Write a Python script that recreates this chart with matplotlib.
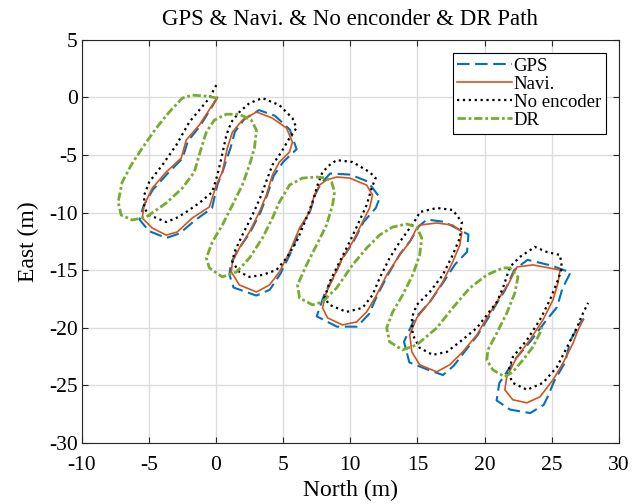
import matplotlib
matplotlib.use("Agg")
import matplotlib.pyplot as plt

plt.rcParams["font.family"] = ["Liberation Serif", "DejaVu Serif"]
plt.rcParams["axes.unicode_minus"] = False

# -------------------------
# Path data (North, East) in metres
# -------------------------
gps_x = [0.1, -0.3, -1.2, -2.1, -2.5, -3.6, -4.7, -5.4, -5.7, -5.0, -3.7, -2.7, -1.6, -0.3,
         0.1, 0.5, 1.1, 1.4, 2.1, 3.2, 4.4, 5.5, 6.0, 5.0, 4.3, 3.8, 3.3, 2.5, 1.6, 1.1,
         1.0, 1.3, 3.0, 4.0, 4.8, 5.6, 6.3, 7.0, 7.4, 7.8, 8.5, 10.0, 11.3, 12.2, 11.9, 11.0,
         10.2, 9.4, 8.8, 8.1, 7.5, 9.0, 10.5, 11.4, 12.0, 12.8, 13.7, 14.5, 15.1, 15.7, 17.0,
         18.8, 18.7, 17.8, 16.9, 15.9, 14.8, 14.0, 14.4, 15.7, 16.9, 17.7, 18.5, 19.5, 20.3,
         21.0, 21.5, 22.2, 23.2, 25.0, 26.4, 25.8, 25.4, 24.5, 23.4, 22.3, 21.1, 20.9, 21.9,
         23.4, 24.4, 24.7, 25.2, 26.0, 26.4, 27.1, 27.4]
gps_y = [0.0, -0.8, -2.5, -3.8, -5.3, -6.6, -8.0, -9.4, -10.6, -11.6, -12.2, -11.8, -10.7, -9.6,
         -7.6, -6.4, -4.3, -3.0, -1.9, -1.1, -1.6, -2.8, -4.5, -5.6, -6.8, -8.5, -10.0, -11.8,
         -13.3, -14.4, -15.4, -16.5, -17.2, -16.7, -15.3, -13.4, -11.3, -9.9, -8.4, -7.5, -6.6,
         -6.7, -7.3, -8.7, -9.6, -10.8, -12.6, -14.0, -15.5, -17.0, -19.0, -19.9, -19.9, -18.8,
         -17.2, -15.4, -13.6, -12.4, -11.2, -10.6, -10.8, -11.9, -13.4, -14.5, -16.1, -17.8,
         -19.2, -21.2, -23.0, -23.6, -24.1, -23.3, -22.1, -20.6, -19.1, -17.7, -16.8, -15.0,
         -14.1, -14.6, -15.2, -16.6, -18.2, -19.5, -21.2, -22.7, -24.8, -26.3, -27.1, -27.4,
         -26.7, -26.0, -24.6, -23.0, -21.1, -19.6, -19.2]

navi_x = [0.1, -0.28, -1.25, -2.22, -2.59, -3.71, -4.75, -5.35, -5.5, -4.75, -3.71, -2.89,
          -1.77, -0.5, 0.02, 0.47, 0.84, 1.22, 1.96, 3.01, 3.23, 4.2, 5.25, 5.69, 5.47, 4.72,
          4.2, 3.75, 3.23, 2.49, 1.74, 1.22, 1.14, 1.74, 3.01, 3.98, 4.72, 5.47, 6.22, 6.96,
          7.33, 7.71, 8.23, 8.98, 9.95, 11.22, 11.66, 11.44, 10.91, 10.17, 9.42, 8.83, 8.23,
          7.93, 8.31, 9.42, 10.47, 11.22, 11.96, 12.71, 13.68, 14.43, 14.95, 15.17, 16.44,
          17.63, 18.31, 18.16, 17.63, 16.89, 15.92, 14.95, 14.43, 14.58, 15.17, 16.44, 17.41,
          18.38, 19.43, 20.17, 20.92, 21.37, 21.74, 22.41, 23.6, 25.62, 25.47, 25.1, 24.35,
          23.38, 22.41, 21.66, 21.51, 22.11, 23.16, 24.13, 25.1, 25.85, 26.6, 26.97, 27.34]
navi_y = [0.0, -0.67, -2.4, -3.7, -5.26, -6.48, -7.87, -9.34, -10.47, -11.34, -11.95, -11.68,
          -10.47, -9.51, -7.61, -6.48, -4.4, -3.01, -1.97, -1.27, -1.36, -1.8, -2.66, -3.88,
          -4.74, -5.61, -6.74, -8.47, -9.95, -11.68, -13.07, -14.28, -15.15, -16.28, -16.89,
          -16.28, -15.15, -13.42, -11.34, -9.95, -8.47, -7.61, -7.17, -6.91, -7.0, -7.61, -8.47,
          -9.6, -10.82, -12.55, -13.94, -15.41, -16.89, -18.27, -19.14, -19.75, -19.49, -18.62,
          -17.15, -15.41, -13.68, -12.55, -11.34, -11.08, -10.9, -11.08, -11.68, -12.81, -14.28,
          -16.02, -17.75, -19.14, -20.61, -22.08, -23.21, -23.82, -23.21, -22.08, -20.61, -19.14,
          -17.75, -16.89, -16.28, -14.72, -14.54, -14.98, -16.11, -17.58, -19.32, -21.05, -22.53,
          -24.26, -25.38, -26.25, -26.51, -25.99, -24.52, -23.05, -21.31, -20.18, -19.32]

noenc_x = [0.02, -0.5, -1.99, -2.96, -4.0, -4.98, -5.35, -5.35, -4.98, -3.71, -2.96, -2.22,
           -1.25, -0.28, 0.1, 0.4, 0.77, 1.14, 1.74, 2.49, 3.46, 4.72, 5.69, 5.99, 5.47, 4.87,
           4.2, 3.83, 3.38, 2.71, 1.96, 1.37, 1.22, 1.74, 2.49, 3.46, 4.5, 5.25, 5.99, 6.74,
           7.19, 7.56, 7.93, 8.46, 8.98, 10.17, 11.44, 11.89, 11.59, 11.22, 10.54, 9.95, 9.2,
           8.46, 8.08, 8.46, 9.72, 10.91, 11.66, 12.19, 12.93, 13.68, 14.43, 14.95, 15.17,
           16.44, 17.63, 18.31, 18.16, 17.63, 16.89, 15.92, 14.95, 14.58, 14.65, 15.17, 16.14,
           17.19, 18.16, 19.43, 20.17, 20.92, 21.37, 21.89, 22.63, 23.75, 24.65, 25.62, 25.77,
           25.47, 24.87, 24.12, 23.16, 22.11, 21.74, 22.11, 23.16, 24.35, 25.4, 26.15, 26.9,
           27.34, 27.72]
noenc_y = [1.07, -0.06, -2.14, -4.14, -5.87, -7.35, -8.47, -9.6, -10.21, -10.82, -10.47,
           -9.95, -9.17, -8.21, -6.74, -5.26, -3.27, -2.14, -1.27, -0.49, -0.06, -0.67, -1.8,
           -2.66, -3.53, -4.74, -5.87, -7.0, -8.47, -10.21, -11.95, -13.42, -14.28, -15.15,
           -15.58, -15.41, -14.98, -13.94, -12.55, -10.47, -9.08, -7.61, -6.48, -5.87, -5.44,
           -5.61, -6.48, -7.0, -7.87, -9.34, -11.08, -12.55, -14.28, -16.02, -17.41, -18.01,
           -18.62, -18.27, -17.15, -15.67, -13.94, -12.55, -11.34, -10.47, -9.95, -9.6, -9.77,
           -10.82, -12.2, -13.68, -15.41, -16.89, -18.01, -19.14, -20.61, -21.74, -22.35,
           -22.09, -21.22, -20.01, -18.88, -17.75, -16.54, -14.72, -13.85, -12.98, -13.42,
           -13.68, -14.8, -15.85, -17.58, -19.32, -21.05, -22.53, -23.91, -24.78, -25.38,
           -24.78, -23.39, -21.66, -19.93, -18.71, -17.84]

dr_x = [0.1, -0.72, -1.77, -2.51, -3.49, -4.45, -5.5, -6.32, -6.99, -7.29, -7.07, -6.24,
        -5.2, -3.71, -2.51, -1.62, -1.1, -0.72, -0.13, 0.77, 1.74, 2.63, 3.01, 2.86, 2.49,
        1.96, 1.22, 0.47, -0.28, -0.72, -0.5, 0.47, 1.52, 2.49, 3.46, 4.2, 4.72, 5.47, 6.44,
        7.49, 8.23, 8.61, 8.83, 8.68, 8.23, 7.49, 6.74, 6.07, 6.22, 7.19, 7.93, 8.98, 10.17,
        11.22, 12.19, 13.16, 14.2, 14.95, 15.32, 15.17, 14.65, 13.9, 13.16, 12.71, 12.93,
        13.9, 14.95, 16.44, 17.63, 18.9, 20.17, 21.37, 21.89, 22.49, 22.26, 21.66, 20.92,
        20.25, 20.17, 20.62, 21.51, 22.11, 22.86, 23.6, 24.13, 24.28]
dr_y = [-0.06, 0.11, 0.2, -0.06, -1.27, -2.66, -4.4, -5.87, -7.35, -9.08, -10.21, -10.64,
        -10.38, -9.17, -7.87, -6.48, -4.4, -3.01, -1.97, -1.46, -1.46, -1.97, -2.84, -4.4,
        -5.87, -7.61, -9.34, -11.08, -12.55, -13.94, -14.8, -15.58, -15.15, -13.94, -12.2,
        -10.47, -9.08, -7.61, -7.0, -6.91, -7.0, -7.35, -8.21, -9.34, -11.08, -12.81, -14.54,
        -16.28, -17.41, -18.01, -17.75, -16.54, -14.54, -13.07, -11.94, -11.25, -10.99,
        -11.25, -12.2, -13.68, -15.41, -17.15, -18.62, -20.01, -21.22, -21.92, -21.48,
        -20.01, -18.27, -16.54, -15.41, -14.8, -14.8, -15.58, -16.97, -18.71, -20.44, -21.92,
        -22.79, -23.65, -24.26, -23.82, -22.79, -21.66, -20.44, -19.93]

x_ticks = list(range(-10, 31, 5))
y_ticks = list(range(-30, 6, 5))

# -------------------------
# Plot
# -------------------------
fig = plt.figure(figsize=(6.34, 5.04), dpi=100)
ax = fig.add_axes([0.129, 0.121, 0.847, 0.800])

ax.plot(gps_x, gps_y, color="#0072BD", lw=1.5, dashes=(6, 2.7), label="GPS")
ax.plot(navi_x, navi_y, color="#D95319", lw=1.2, label="Navi.")
ax.plot(noenc_x, noenc_y, color="black", lw=1.6, ls=":", label="No encoder")
ax.plot(dr_x, dr_y, color="#77AC30", lw=2.0, dashes=(3, 1, 1, 1), label="DR")

ax.set_xlim(-10, 30)
ax.set_ylim(-30, 5)
ax.set_xticks(x_ticks)
ax.set_yticks(y_ticks)
ax.tick_params(direction="in", top=True, right=True, labelsize=15.5, length=4,
               width=0.8, color="#262626", labelcolor="black")
ax.tick_params(axis="x", pad=9)
ax.tick_params(axis="y", pad=3)
ax.grid(True, color="#DCDCDC", lw=1.0)
ax.set_axisbelow(True)
for s in ax.spines.values():
    s.set_color("#262626")
    s.set_linewidth(0.8)

ax.set_title("GPS & Navi. & No enconder & DR Path", fontsize=16.5, pad=11)
ax.set_xlabel("North (m)", fontsize=17, labelpad=4)
ax.set_ylabel("East (m)", fontsize=17, labelpad=7)

leg = ax.legend(loc="upper right", fontsize=13.5, handlelength=2.9, handletextpad=0.1,
                borderpad=0.25, labelspacing=0.05, fancybox=False, framealpha=1,
                edgecolor="black", borderaxespad=0.7)
leg.get_frame().set_linewidth(0.8)

fig.savefig("out.png", dpi=100)
